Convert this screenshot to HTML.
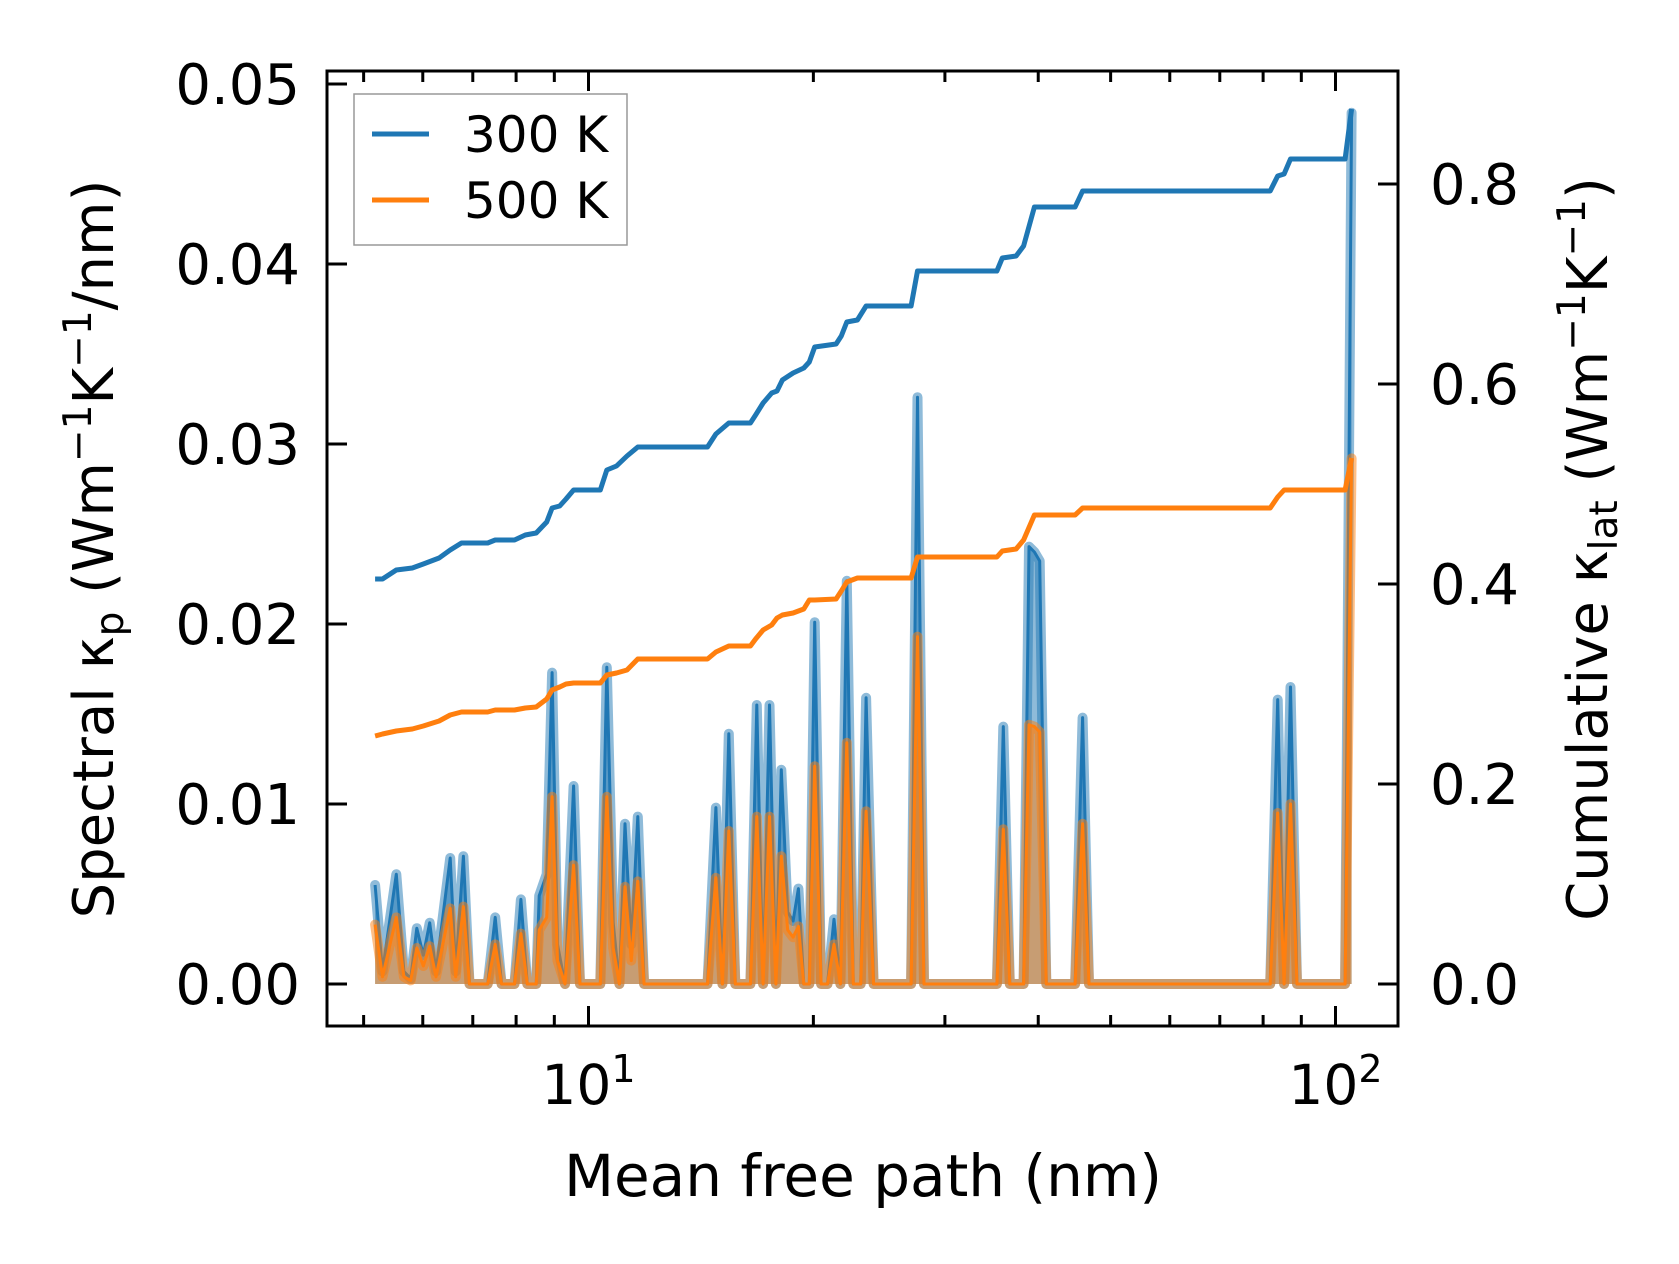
<!DOCTYPE html>
<html><head><meta charset="utf-8">
<style>
html,body{margin:0;padding:0;background:#fff;}
svg{display:block;font-family:"DejaVu Sans","Liberation Sans",sans-serif;}
</style></head>
<body>
<svg id="chart" width="1679" height="1264" viewBox="0 0 1679 1264" xmlns="http://www.w3.org/2000/svg"></svg>
<script>
const mfp = [5.18,5.30,5.53,5.66,5.78,5.89,6.01,6.13,6.25,6.53,6.64,6.80,6.93,7.33,7.50,7.65,7.96,8.12,8.28,8.51,8.59,8.79,8.94,9.09,9.30,9.55,9.74,10.37,10.58,10.79,11.00,11.19,11.41,11.64,11.87,14.43,14.81,15.11,15.41,15.72,16.47,16.80,17.13,17.47,17.82,18.12,18.48,18.79,19.10,19.42,19.75,20.08,20.48,20.89,21.31,21.74,22.17,22.62,23.14,23.53,24.08,27.03,27.57,28.13,35.21,35.92,36.64,38.24,38.88,39.53,40.18,41.01,44.82,45.86,46.77,81.76,83.67,85.34,87.05,88.80,103.0,105.1];
const k300 = [0.0055,0.0007,0.0061,0.0007,0.0003,0.0031,0.0016,0.0034,0.0007,0.0070,0.0007,0.0071,0,0,0.0037,0,0,0.0047,0,0,0.0049,0.0061,0.0173,0.0022,0,0.0110,0,0,0.0176,0.0034,0,0.0089,0.0022,0.0093,0,0,0.0098,0,0.0139,0,0,0.0155,0,0.0155,0,0.0119,0.0040,0.0035,0.0053,0,0,0.0201,0,0,0.0036,0,0.0224,0,0,0.0159,0,0,0.0326,0,0,0.0143,0,0,0.0243,0.0240,0.0235,0,0,0.0148,0,0,0.0158,0,0.0165,0,0,0.0484];
const k500 = [0.0033,0.0004,0.0037,0.0004,0.0002,0.0020,0.0010,0.0021,0.0004,0.0042,0.0004,0.0043,0,0,0.0022,0,0,0.0028,0,0,0.0030,0.0037,0.0104,0.0013,0,0.0066,0,0,0.0104,0.0020,0,0.0054,0.0013,0.0057,0,0,0.0059,0,0.0085,0,0,0.0093,0,0.0093,0,0.0071,0.0030,0.0026,0.0032,0,0,0.0121,0,0,0.0022,0,0.0134,0,0,0.0096,0,0,0.0193,0,0,0.0086,0,0,0.0144,0.0143,0.0140,0,0,0.0089,0,0,0.0095,0,0.0100,0,0,0.0292];
const cumMfp = [5.18,5.30,5.53,5.81,6.01,6.31,6.53,6.76,7.33,7.50,7.96,8.23,8.51,8.79,8.94,9.15,9.33,9.55,10.37,10.58,10.90,11.26,11.64,14.43,14.81,15.41,16.47,16.74,17.13,17.59,17.88,18.18,18.79,19.42,19.75,20.08,21.45,21.80,22.17,22.91,23.53,27.03,27.57,35.21,35.80,37.36,38.24,39.53,44.82,45.86,81.76,83.67,85.34,87.05,103.0,105.1];
const cum300 = [0.405,0.405,0.414,0.416,0.420,0.426,0.434,0.441,0.441,0.444,0.444,0.449,0.451,0.462,0.476,0.478,0.485,0.494,0.494,0.514,0.518,0.528,0.537,0.537,0.550,0.561,0.561,0.569,0.581,0.591,0.593,0.604,0.611,0.616,0.622,0.637,0.640,0.648,0.662,0.664,0.678,0.678,0.713,0.713,0.726,0.728,0.738,0.777,0.777,0.793,0.793,0.808,0.810,0.825,0.825,0.875];
const cum500 = [0.248,0.250,0.253,0.255,0.258,0.263,0.269,0.272,0.272,0.274,0.274,0.276,0.277,0.285,0.294,0.297,0.300,0.301,0.301,0.309,0.311,0.314,0.325,0.325,0.332,0.338,0.338,0.345,0.354,0.359,0.366,0.369,0.371,0.375,0.384,0.384,0.385,0.393,0.402,0.406,0.406,0.406,0.427,0.427,0.433,0.435,0.444,0.469,0.469,0.476,0.476,0.487,0.494,0.494,0.494,0.526];
const yLeftTicks = [0,0.01,0.02,0.03,0.04,0.05];
const yLeftLabels = ["0.00","0.01","0.02","0.03","0.04","0.05"];
const yRightTicks = [0,0.2,0.4,0.6,0.8];
const yRightLabels = ["0.0","0.2","0.4","0.6","0.8"];
const seriesNames = ["300 K","500 K"];

const NS="http://www.w3.org/2000/svg";
const svg=document.getElementById('chart');
const L=327,R=1398,T=71,B=1026;
const X10=588.5, DEC=747;
function xs(v){return X10+(Math.log10(v)-1)*DEC;}
function yl(v){return 984-v*18000;}
function yr(v){return 984-v*1000;}
function mk(tag,attrs,parent){const e=document.createElementNS(NS,tag);for(const k in attrs)e.setAttribute(k,attrs[k]);(parent||svg).appendChild(e);return e;}
const BLUE="#1f77b4",ORANGE="#ff7f0e";

const clip=mk('clipPath',{id:'plotclip'});
mk('rect',{x:L,y:T,width:R-L,height:B-T},clip);
const plot=mk('g',{'clip-path':'url(#plotclip)'});



function linePts(xsArr,ysArr,yf){return xsArr.map((v,i)=>xs(v).toFixed(1)+','+yf(ysArr[i]).toFixed(1)).join(' ');}
function spectral(vals,color,name){
  const g=mk('g',{},plot);
  
  
  const pts=linePts(mfp,vals,yl);
  const fillPts=xs(mfp[0]).toFixed(1)+','+yl(0)+' '+pts+' '+xs(mfp[mfp.length-1]).toFixed(1)+','+yl(0);
  const f=mk('polygon',{points:fillPts,fill:color,'fill-opacity':0.5,stroke:'none'},g);
  
  
  const thick=mk('polyline',{points:pts,fill:'none',stroke:color,'stroke-opacity':0.5,'stroke-width':10,'stroke-linejoin':'round','stroke-linecap':'round'},g);
  
  
  const thin=mk('polyline',{points:pts,fill:'none',stroke:color,'stroke-width':3,'stroke-linejoin':'round'},g);
  
  
}
spectral(k300,BLUE,'spectral-300k');
spectral(k500,ORANGE,'spectral-500k');
const c3=mk('polyline',{points:linePts(cumMfp,cum300,yr),fill:'none',stroke:BLUE,'stroke-width':5,'stroke-linejoin':'round'},plot);


const c5=mk('polyline',{points:linePts(cumMfp,cum500,yr),fill:'none',stroke:ORANGE,'stroke-width':5,'stroke-linejoin':'round'},plot);



const tg=mk('g',{stroke:'#000','stroke-width':3});


yLeftTicks.forEach((v,i)=>{
  const y=yl(v);
  mk('line',{x1:L,x2:L+20,y1:y,y2:y},tg);
  const t=mk('text',{x:300,y:y+20,'text-anchor':'end','font-size':56,fill:'#000',stroke:'none'});
  t.textContent=yLeftLabels[i];
  
  
});
yRightTicks.forEach((v,i)=>{
  const y=yr(v);
  mk('line',{x1:R,x2:R-20,y1:y,y2:y},tg);
  const t=mk('text',{x:1430,y:y+20,'text-anchor':'start','font-size':56,fill:'#000',stroke:'none'});
  t.textContent=yRightLabels[i];
  
  
});
[5,6,7,8,9,20,30,40,50,60,70,80,90].forEach(v=>{
  const x=xs(v);
  mk('line',{x1:x,x2:x,y1:B,y2:B-11},tg);
  mk('line',{x1:x,x2:x,y1:T,y2:T+11},tg);
});
[[10,'1'],[100,'2']].forEach(([v,e])=>{
  const x=xs(v);
  mk('line',{x1:x,x2:x,y1:B,y2:B-20},tg);
  mk('line',{x1:x,x2:x,y1:T,y2:T+20},tg);
  const t=mk('text',{x:x,y:1104,'text-anchor':'middle','font-size':55,fill:'#000',stroke:'none'});
  
  
  const s1=mk('tspan',{},t);s1.textContent='10';
  const s2=mk('tspan',{dy:-22,'font-size':38},t);s2.textContent=e;
});
const frame=mk('rect',{x:L,y:T,width:R-L,height:B-T,fill:'none',stroke:'#000','stroke-width':3});



const xl=mk('text',{x:863,y:1196,'text-anchor':'middle','font-size':58,fill:'#000'});
xl.textContent='Mean free path (nm)';


const ylab=mk('text',{transform:'translate(113,549) rotate(-90)','text-anchor':'middle','font-size':56,fill:'#000'});


ylab.innerHTML='Spectral κ<tspan font-size="39" dy="10">p</tspan><tspan dy="-10"> (Wm</tspan><tspan font-size="39" dy="-22">−1</tspan><tspan dy="22">K</tspan><tspan font-size="39" dy="-22">−1</tspan><tspan dy="22">/nm)</tspan>';
const yrlab=mk('text',{transform:'translate(1607,549) rotate(-90)','text-anchor':'middle','font-size':56,fill:'#000'});


yrlab.innerHTML='Cumulative κ<tspan font-size="39" dy="10">lat</tspan><tspan dy="-10"> (Wm</tspan><tspan font-size="39" dy="-22">−1</tspan><tspan dy="22">K</tspan><tspan font-size="39" dy="-22">−1</tspan><tspan dy="22">)</tspan>';

const lg=mk('g',{});


mk('rect',{x:354,y:94,width:273,height:151,fill:'#fff','fill-opacity':0.8,stroke:'#999','stroke-width':1.5},lg);
[[BLUE,134],[ORANGE,200]].forEach(([c,y],i)=>{
  const e=mk('g',{},lg);
  
  
  mk('line',{x1:372,x2:429,y1:y,y2:y,stroke:c,'stroke-width':5},e);
  const t=mk('text',{x:464,y:y+18,'font-size':50,fill:'#000'},e);
  t.textContent=seriesNames[i];
});
</script>
</body></html>
